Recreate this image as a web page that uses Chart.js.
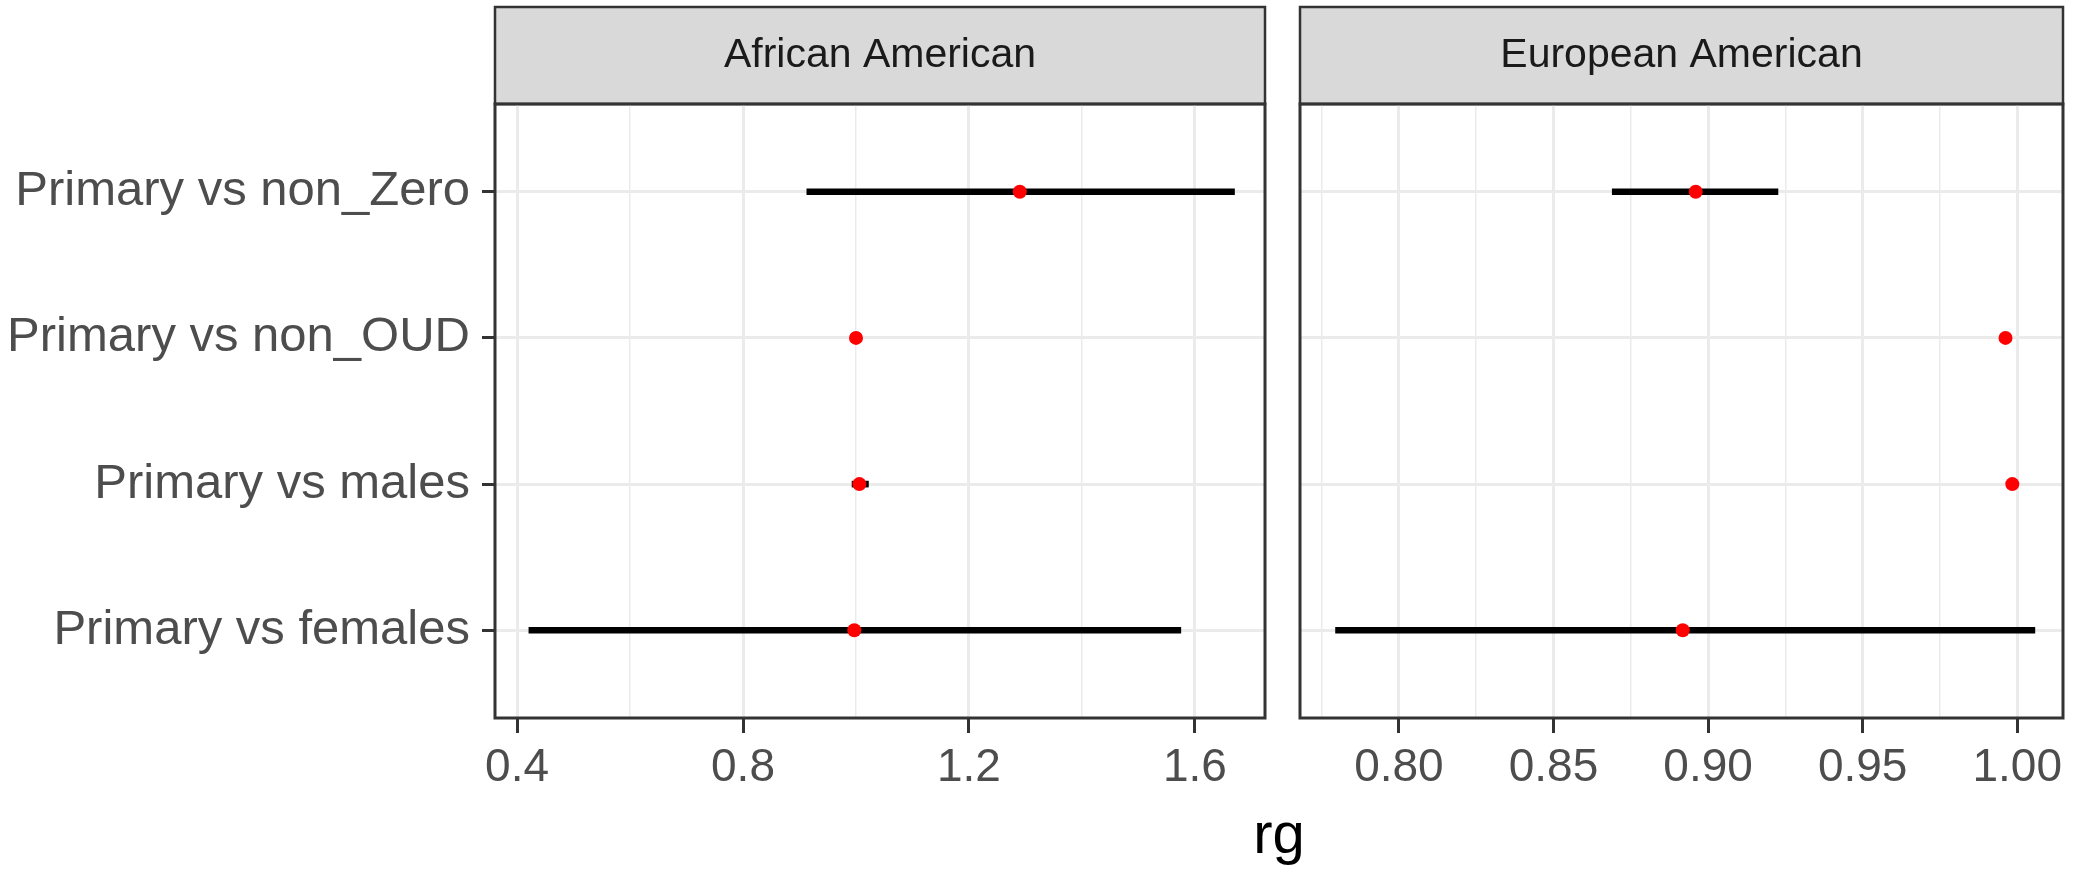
<!DOCTYPE html>
<html>
<head>
<meta charset="utf-8">
<script src="https://cdn.jsdelivr.net/npm/chart.js@4.4.0/dist/chart.umd.min.js"></script>
<style>
  html, body { margin: 0; padding: 0; background: #ffffff; }
  #wrap { position: relative; width: 2080px; height: 875px; overflow: hidden; }
  #aaChart { position: absolute; left: 0; top: 0; }
  #eaChart { position: absolute; left: 1280px; top: 0; }
  #xTitle {
    position: absolute; left: 1179px; width: 200px; top: 804px;
    text-align: center; font: 58px "Liberation Sans", Arial, sans-serif;
    line-height: 58px; color: #000000;
  }
</style>
</head>
<body>
<div id="wrap">
  <canvas id="aaChart" width="1282" height="875" style="width:1282px;height:875px"></canvas>
  <canvas id="eaChart" width="800" height="875" style="width:800px;height:875px"></canvas>
  <div id="xTitle">rg</div>
</div>
<script>
// comparisons, bottom to top (same order as the ggplot factor levels)
const categories = ['Primary vs females', 'Primary vs males', 'Primary vs non_OUD', 'Primary vs non_Zero'];
const panels = ['African American', 'European American'];

// African American estimates and CI
const aaEstimate = [0.997, 1.006, 1.0, 1.29];
const aaLower = [0.421, 0.993, 0.996, 0.913];
const aaUpper = [1.575, 1.022, 1.004, 1.670];

// European American estimates and CI
const eaEstimate = [0.8918, 0.9984, 0.9962, 0.896];
const eaLower = [0.7795, 0.9972, 0.9955, 0.869];
const eaUpper = [1.0057, 0.9996, 0.9969, 0.9226];

// axis breaks
const aaMajorTicks = [0.4, 0.8, 1.2, 1.6];
const aaMinorTicks = [0.6, 1.0, 1.4];
const eaMajorTicks = [0.80, 0.85, 0.90, 0.95, 1.00];
const eaMinorTicks = [0.775, 0.825, 0.875, 0.925, 0.975];

const FONT = '"Liberation Sans", Arial, Helvetica, sans-serif';
const STRIP_TOP = 7;

function isMajor(list, v) {
  return list.some(m => Math.abs(m - v) < 1e-9);
}

// grey strip above each panel + dark panel border (ggplot theme_bw look)
const facetPanel = {
  id: 'facetPanel',
  beforeDraw(chart) {
    const ctx = chart.ctx, a = chart.chartArea;
    ctx.save();
    ctx.fillStyle = '#D9D9D9';
    ctx.fillRect(a.left, STRIP_TOP, a.right - a.left, a.top - STRIP_TOP);
    ctx.strokeStyle = '#333333';
    ctx.lineWidth = 2.5;
    ctx.strokeRect(a.left, STRIP_TOP, a.right - a.left, a.top - STRIP_TOP);
    ctx.restore();
  },
  afterDatasetsDraw(chart) {
    const ctx = chart.ctx, a = chart.chartArea;
    ctx.save();
    ctx.strokeStyle = '#333333';
    ctx.lineWidth = 3;
    ctx.strokeRect(a.left, a.top, a.right - a.left, a.bottom - a.top);
    ctx.restore();
  }
};

function makePanel(canvasId, title, est, lo, hi, xMin, xMax, major, minor, decimals, showY, pad) {
  const ctx = document.getElementById(canvasId).getContext('2d');
  return new Chart(ctx, {
    type: 'bar',
    data: {
      datasets: [{
        type: 'line',
        label: 'rg',
        data: categories.map((c, i) => ({ x: est[i], y: i + 1 })),
        showLine: false,
        pointStyle: 'circle',
        pointRadius: 7,
        pointBackgroundColor: '#FF0000',
        pointBorderWidth: 0,
        order: 0
      }, {
        type: 'bar',
        label: 'CI',
        data: categories.map((c, i) => ({ x: [lo[i], hi[i]], y: i + 1 })),
        backgroundColor: '#000000',
        borderWidth: 0,
        barThickness: 6,
        order: 1
      }]
    },
    options: {
      indexAxis: 'y',
      responsive: false,
      animation: false,
      layout: { padding: pad },
      plugins: {
        legend: { display: false },
        tooltip: { enabled: false },
        title: {
          display: true,
          text: title,
          fullSize: false,
          color: '#1A1A1A',
          font: { family: FONT, size: 41, weight: 'normal', lineHeight: 1.2 },
          padding: { top: 23.9, bottom: 23.9 }
        }
      },
      scales: {
        x: {
          type: 'linear',
          min: xMin,
          max: xMax,
          border: { display: false },
          afterBuildTicks(scale) {
            scale.ticks = major.concat(minor).sort((a, b) => a - b).map(v => ({ value: v }));
          },
          afterFit(scale) { scale.height = 157; },
          grid: {
            color: '#EBEBEB',
            lineWidth: c => isMajor(major, c.tick.value) ? 3 : 1.5,
            drawTicks: true,
            tickLength: 15,
            tickWidth: 3,
            tickColor: c => isMajor(major, c.tick.value) ? '#333333' : 'rgba(0,0,0,0)'
          },
          ticks: {
            autoSkip: false,
            maxRotation: 0,
            minRotation: 0,
            padding: 8,
            color: '#4D4D4D',
            font: { family: FONT, size: 46 },
            callback: v => isMajor(major, v) ? Number(v).toFixed(decimals) : ''
          }
        },
        y: {
          type: 'linear',
          min: 0.4,
          max: categories.length + 0.6,
          offset: false,
          border: { display: false },
          afterBuildTicks(scale) {
            scale.ticks = categories.map((c, i) => ({ value: i + 1 }));
          },
          afterFit(scale) { scale.width = showY ? 495 : 0; },
          grid: {
            offset: false,
            color: '#EBEBEB',
            lineWidth: 3,
            drawTicks: showY,
            tickLength: 13,
            tickWidth: 3,
            tickColor: '#333333'
          },
          ticks: {
            display: showY,
            autoSkip: false,
            padding: 12,
            color: '#4D4D4D',
            font: { family: FONT, size: 49 },
            callback: v => categories[v - 1]
          }
        }
      }
    },
    plugins: [facetPanel]
  });
}

makePanel('aaChart', panels[0], aaEstimate, aaLower, aaUpper, 0.361, 1.724,
  aaMajorTicks, aaMinorTicks, 1, true, { top: STRIP_TOP, right: 17, left: 0, bottom: 0 });
makePanel('eaChart', panels[1], eaEstimate, eaLower, eaUpper, 0.768, 1.0148,
  eaMajorTicks, eaMinorTicks, 2, false, { top: STRIP_TOP, right: 17, left: 20, bottom: 0 });
</script>
</body>
</html>
